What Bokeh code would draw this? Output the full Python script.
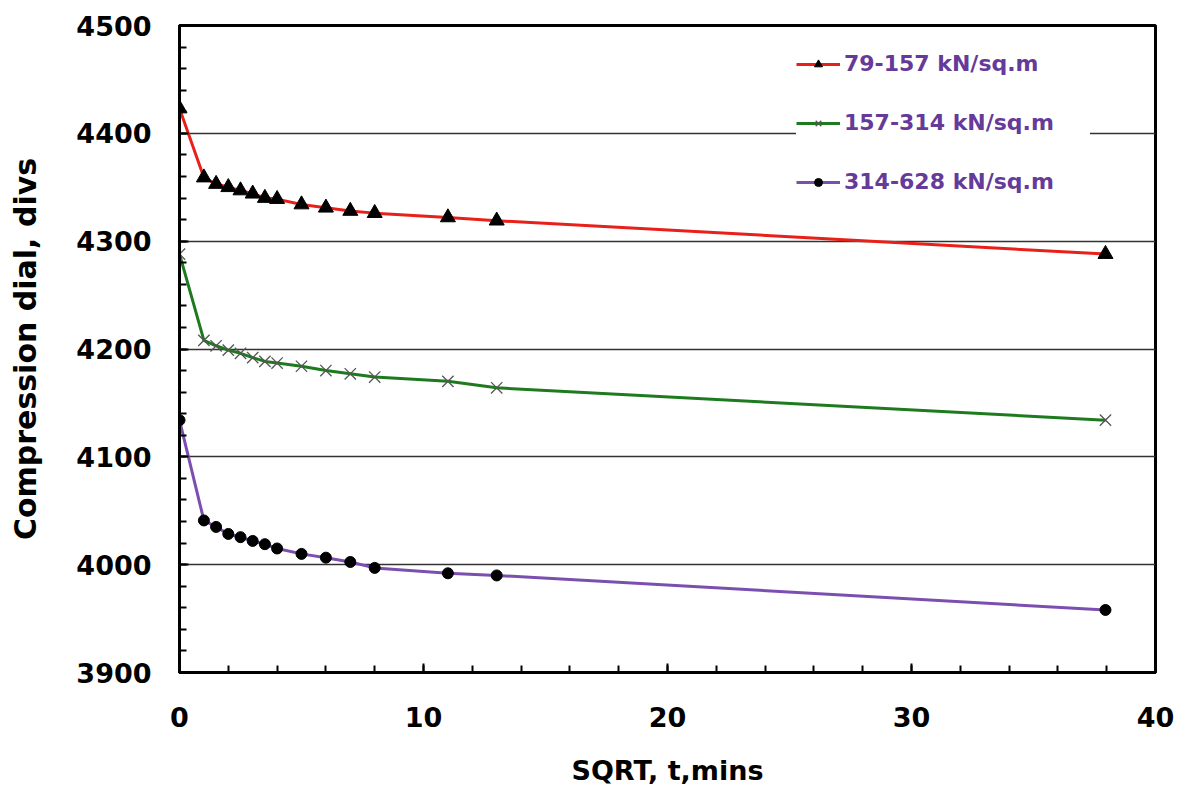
from bokeh.plotting import figure
from bokeh.models import Range1d, FixedTicker, Legend, LegendItem
from bokeh.embed import file_html
from bokeh.resources import INLINE

# Data (SQRT of elapsed time in minutes)
sqrt_t = [0, 1, 1.5, 2, 2.5, 3, 3.5, 4, 5, 6, 7, 8, 11, 13, 37.95]
load_79_157 = [4423, 4359, 4353, 4350, 4347, 4344, 4340, 4339, 4334, 4331, 4328, 4326, 4322, 4319, 4288]
load_157_314 = [4288, 4208, 4203, 4199, 4196, 4192, 4188.5, 4187, 4184, 4180, 4177, 4174, 4170, 4164, 4134]
load_314_628 = [4134, 4041, 4035, 4028.5, 4025.5, 4022, 4019, 4015, 4010, 4006.5, 4002.5, 3997, 3992, 3990, 3958]

series_labels = ["79-157 kN/sq.m", "157-314 kN/sq.m", "314-628 kN/sq.m"]
x_ticks = [0, 10, 20, 30, 40]
y_ticks = [3900, 4000, 4100, 4200, 4300, 4400, 4500]

FONT = "DejaVu Sans"

p = figure(width=1180, height=792, output_backend="svg", toolbar_location=None,
           x_range=Range1d(0, 40), y_range=Range1d(3900, 4500),
           min_border_left=179, min_border_right=25, min_border_top=25, min_border_bottom=120)
p.background_fill_color = "white"
p.border_fill_color = "white"
p.outline_line_color = "black"
p.outline_line_width = 3

# Axes
p.xaxis.ticker = FixedTicker(ticks=x_ticks, minor_ticks=list(range(0, 41, 2)))
p.yaxis.ticker = FixedTicker(ticks=y_ticks, minor_ticks=list(range(3900, 4501, 20)))
for ax in (p.xaxis, p.yaxis):
    ax.axis_line_color = "black"
    ax.axis_line_width = 3
    ax.major_tick_line_color = "black"
    ax.major_tick_line_width = 2
    ax.major_tick_in = 9
    ax.major_tick_out = 0
    ax.minor_tick_line_color = "black"
    ax.minor_tick_line_width = 2
    ax.minor_tick_in = 7
    ax.minor_tick_out = 0
    ax.major_label_text_font = FONT
    ax.major_label_text_font_style = "bold"
    ax.major_label_text_font_size = "27px"
    ax.major_label_text_color = "black"
    ax.axis_label_text_font = FONT
    ax.axis_label_text_font_style = "bold"
    ax.axis_label_text_color = "black"

p.xaxis.axis_label = "SQRT, t,mins"
p.xaxis.axis_label_text_font_size = "27px"
p.xaxis.major_label_standoff = 34
p.xaxis.axis_label_standoff = 25
p.yaxis.axis_label = "Compression dial, divs"
p.yaxis.axis_label_text_font_size = "30px"
p.yaxis.major_label_standoff = 28
p.yaxis.axis_label_standoff = 30

p.xgrid.grid_line_color = None
p.ygrid.ticker = FixedTicker(ticks=y_ticks)
p.ygrid.grid_line_color = "#333333"
p.ygrid.grid_line_width = 1.4

# Series
l1 = p.line(sqrt_t, load_79_157, line_color="#E8201A", line_width=3)
m1 = p.scatter(sqrt_t, load_79_157, marker="triangle", size=15, fill_color="black", line_color="black")
l2 = p.line(sqrt_t, load_157_314, line_color="#1E7A1E", line_width=3)
m2 = p.scatter(sqrt_t, load_157_314, marker="x", size=16, line_color="#555555", line_width=1.3)
l3 = p.line(sqrt_t, load_314_628, line_color="#7B4FAF", line_width=3)
m3 = p.scatter(sqrt_t, load_314_628, marker="circle", size=11, fill_color="black", line_color="black")

legend = Legend(items=[
    LegendItem(label=series_labels[0], renderers=[l1, m1]),
    LegendItem(label=series_labels[1], renderers=[l2, m2]),
    LegendItem(label=series_labels[2], renderers=[l3, m3]),
], location=(617, 478))
legend.label_text_font = FONT
legend.label_text_font_style = "bold"
legend.label_text_font_size = "22px"
legend.label_text_color = "#663A99"
legend.glyph_width = 44
legend.glyph_height = 20
legend.label_standoff = 4
legend.spacing = 34
legend.padding = 10
legend.label_width = 246
legend.background_fill_color = "white"
legend.background_fill_alpha = 1
legend.border_line_color = None
p.add_layout(legend, "center")

open("out.html", "w").write(file_html(p, INLINE))
